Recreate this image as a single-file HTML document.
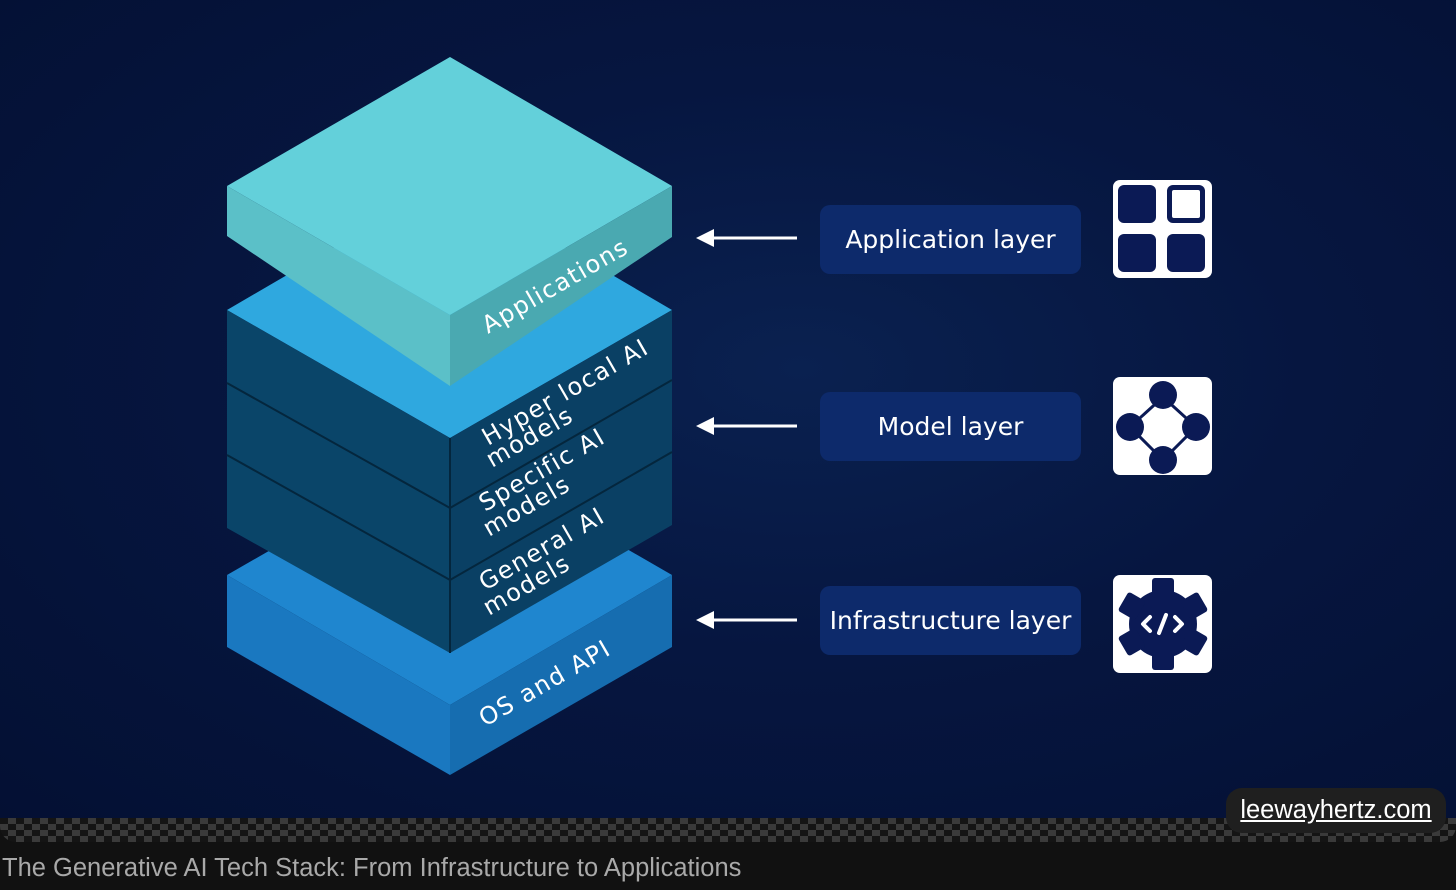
<!DOCTYPE html>
<html><head><meta charset="utf-8"><style>
html,body{margin:0;padding:0;background:#111;width:1456px;height:890px;overflow:hidden;font-family:"Liberation Sans",sans-serif}
#img{position:absolute;left:0;top:0;width:1456px;height:842px;border-radius:0 0 16px 16px;overflow:hidden;
background:repeating-conic-gradient(#3a3a3a 0 25%,#141414 0 50%) 0 818px/16px 12px;}
#bg{position:absolute;left:0;top:0;width:1456px;height:818px;background:radial-gradient(ellipse at 55% 45%,#0a2150 0%,#061640 45%,#041033 100%);}
.pill{position:absolute;left:820px;width:261px;height:69px;background:#0d2a6b;border-radius:10px;color:#fff;display:flex;align-items:center;justify-content:center;font-family:"DejaVu Sans","Liberation Sans",sans-serif;font-size:25px}
.icon{position:absolute;left:1113px;width:99px;height:98px;background:#fff;border-radius:7px}
#cap{position:absolute;left:2px;top:854px;color:#a9a9a9;font-size:25.5px}
#wm{position:absolute;left:1226px;top:788px;width:220px;height:45px;background:#1f1f1f;border-radius:16px;color:#fff;font-size:25.5px;text-align:center;line-height:45px;text-decoration:underline}
</style></head><body>
<div id="img"><div id="bg"></div>
<svg width="1456" height="818" style="position:absolute;left:0;top:0">
<polygon points="227,575 450,447 672,575 450,705" fill="#1f86cf"/>
<polygon points="227,575 450,705 450,775 227,647" fill="#1a78c0"/>
<polygon points="450,705 672,575 672,647 450,775" fill="#166db0"/>
<polygon points="227,310 450,180 672,310 450,438" fill="#2fa8df"/>
<polygon points="227,310 450,438 450,653 227,528" fill="#0a4569"/>
<polygon points="450,438 672,310 672,525 450,653" fill="#0a4064"/>
<g stroke="#04263d" stroke-width="2" fill="none">
<polyline points="227,383 450,508 672,380"/><polyline points="227,455 450,580 672,452"/><line x1="450" y1="438" x2="450" y2="653"/></g>
<polygon points="227,186 450,57 672,186 450,315" fill="#63d0da"/>
<polygon points="227,186 450,315 450,386 227,236" fill="#5bc0c8"/>
<polygon points="450,315 672,186 672,237 450,386" fill="#4aa9b1"/>
<g fill="#fff" font-family="DejaVu Sans,Liberation Sans,sans-serif" font-size="24" letter-spacing="1.5">
<text transform="translate(488,334) rotate(-30)">Applications</text>
<text transform="translate(488,446) rotate(-30)">Hyper local AI</text>
<text transform="translate(492,468) rotate(-30)">models</text>
<text transform="translate(485,512) rotate(-30)">Specific AI</text>
<text transform="translate(489,537) rotate(-30)">models</text>
<text transform="translate(485,591) rotate(-30)">General AI</text>
<text transform="translate(489,616) rotate(-30)">models</text>
<text transform="translate(485,727) rotate(-30)">OS and API</text>
</g>
<g stroke="#fff" stroke-width="3" fill="#fff">
<line x1="797" y1="238" x2="710" y2="238"/><polygon points="696,238 714,229 714,247" stroke="none"/>
<line x1="797" y1="426" x2="710" y2="426"/><polygon points="696,426 714,417 714,435" stroke="none"/>
<line x1="797" y1="620" x2="710" y2="620"/><polygon points="696,620 714,611 714,629" stroke="none"/>
</g>
</svg>
<div class="pill" style="top:205px">Application layer</div>
<div class="pill" style="top:392px">Model layer</div>
<div class="pill" style="top:586px">Infrastructure layer</div>
<div class="icon" style="top:180px"><svg width="99" height="98">
<rect x="5" y="5" width="38" height="38" rx="6" fill="#0b1a55"/>
<rect x="54" y="5" width="38" height="38" rx="6" fill="#0b1a55"/><rect x="59" y="10" width="28" height="28" rx="2" fill="#fff"/>
<rect x="5" y="54" width="38" height="38" rx="6" fill="#0b1a55"/>
<rect x="54" y="54" width="38" height="38" rx="6" fill="#0b1a55"/></svg></div>
<div class="icon" style="top:377px"><svg width="99" height="98">
<polygon points="50,20 83,50 50,83 17,50" fill="none" stroke="#0b1a55" stroke-width="3"/>
<circle cx="50" cy="18" r="14" fill="#0b1a55"/><circle cx="17" cy="50" r="14" fill="#0b1a55"/>
<circle cx="83" cy="50" r="14" fill="#0b1a55"/><circle cx="50" cy="83" r="14" fill="#0b1a55"/></svg></div>
<div class="icon" style="top:575px"><svg width="99" height="98">
<g fill="#0b1a55" transform="translate(50,49)">
<circle r="34"/>
<rect x="-11" y="-46" width="22" height="20" rx="3"/><rect x="-11" y="26" width="22" height="20" rx="3"/>
<rect x="-11" y="-46" width="22" height="20" rx="3" transform="rotate(60)"/><rect x="-11" y="26" width="22" height="20" rx="3" transform="rotate(60)"/>
<rect x="-11" y="-46" width="22" height="20" rx="3" transform="rotate(120)"/><rect x="-11" y="26" width="22" height="20" rx="3" transform="rotate(120)"/>
</g>
<g stroke="#fff" stroke-width="4" fill="none" stroke-linecap="round" stroke-linejoin="round">
<polyline points="37,42 30,49 37,56"/><polyline points="62,42 69,49 62,56"/><line x1="53" y1="40" x2="46" y2="58"/></g></svg></div>
</div>
<div id="wm">leewayhertz.com</div>
<div id="cap">The Generative AI Tech Stack: From Infrastructure to Applications</div>
</body></html>
